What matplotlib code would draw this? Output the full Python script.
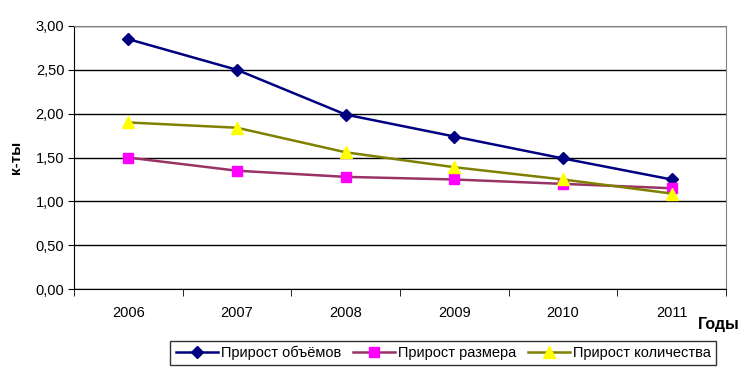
import matplotlib.pyplot as plt
import matplotlib.ticker as mticker

plt.rcParams['font.family'] = ['Liberation Sans', 'DejaVu Sans']

# data
years = ['2006', '2007', '2008', '2009', '2010', '2011']
volume = [2.85, 2.50, 1.99, 1.74, 1.49, 1.25]
size = [1.50, 1.35, 1.28, 1.25, 1.20, 1.15]
count = [1.90, 1.84, 1.56, 1.39, 1.25, 1.09]

fig = plt.figure(figsize=(7.55, 3.85), dpi=100)
ax = fig.add_axes([0.098, 0.249, 0.8636, 0.6835])

x = range(len(years))
ax.plot(x, volume, color='#000080', lw=1.8, marker='D', ms=6,
        mfc='#000080', mec='#000080', label='Прирост объёмов', zorder=3)
ax.plot(x, size, color='#993366', lw=1.8, marker='s', ms=7,
        mfc='#FF00FF', mec='#FF00FF', label='Прирост размера', zorder=3)
ax.plot(x, count, color='#808000', lw=1.8, marker='^', ms=8,
        mfc='#FFFF00', mec='#FFFF00', label='Прирост количества', zorder=3)

ax.set_xlim(-0.5, len(years) - 0.5)
ax.set_ylim(0, 3)
ax.set_yticks([0, 0.5, 1, 1.5, 2, 2.5, 3])
ax.yaxis.set_major_formatter(mticker.FuncFormatter(lambda v, p: f'{v:.2f}'.replace('.', ',')))
ax.yaxis.grid(True, color='black', lw=1)
ax.set_axisbelow(True)

ax.set_xticks(list(x))
ax.set_xticklabels(years)
ax.set_xticks([i - 0.5 for i in range(len(years) + 1)], minor=True)
ax.tick_params(axis='x', which='major', length=0, pad=12, labelsize=10.5)
ax.tick_params(axis='x', which='minor', length=5, color='black')
ax.tick_params(axis='y', length=4, labelsize=10.5, color='black', pad=3)

ax.spines['left'].set_color('black')
ax.spines['bottom'].set_color('black')
ax.spines['top'].set_color('#808080')
ax.spines['right'].set_color('#808080')

ax.set_ylabel('к-ты', fontsize=11, fontweight='bold', labelpad=9)
fig.text(0.98, 0.145, 'Годы', fontsize=11.5, fontweight='bold', ha='right')

leg = fig.legend(loc='center', bbox_to_anchor=(0.587, 0.083), ncol=3,
                 frameon=True, fancybox=False, edgecolor='black',
                 fontsize=10.5, handlelength=2.9, columnspacing=0.8,
                 handletextpad=0.2, borderpad=0.35)
leg.get_frame().set_linewidth(1)

fig.savefig('out.png', dpi=100)
